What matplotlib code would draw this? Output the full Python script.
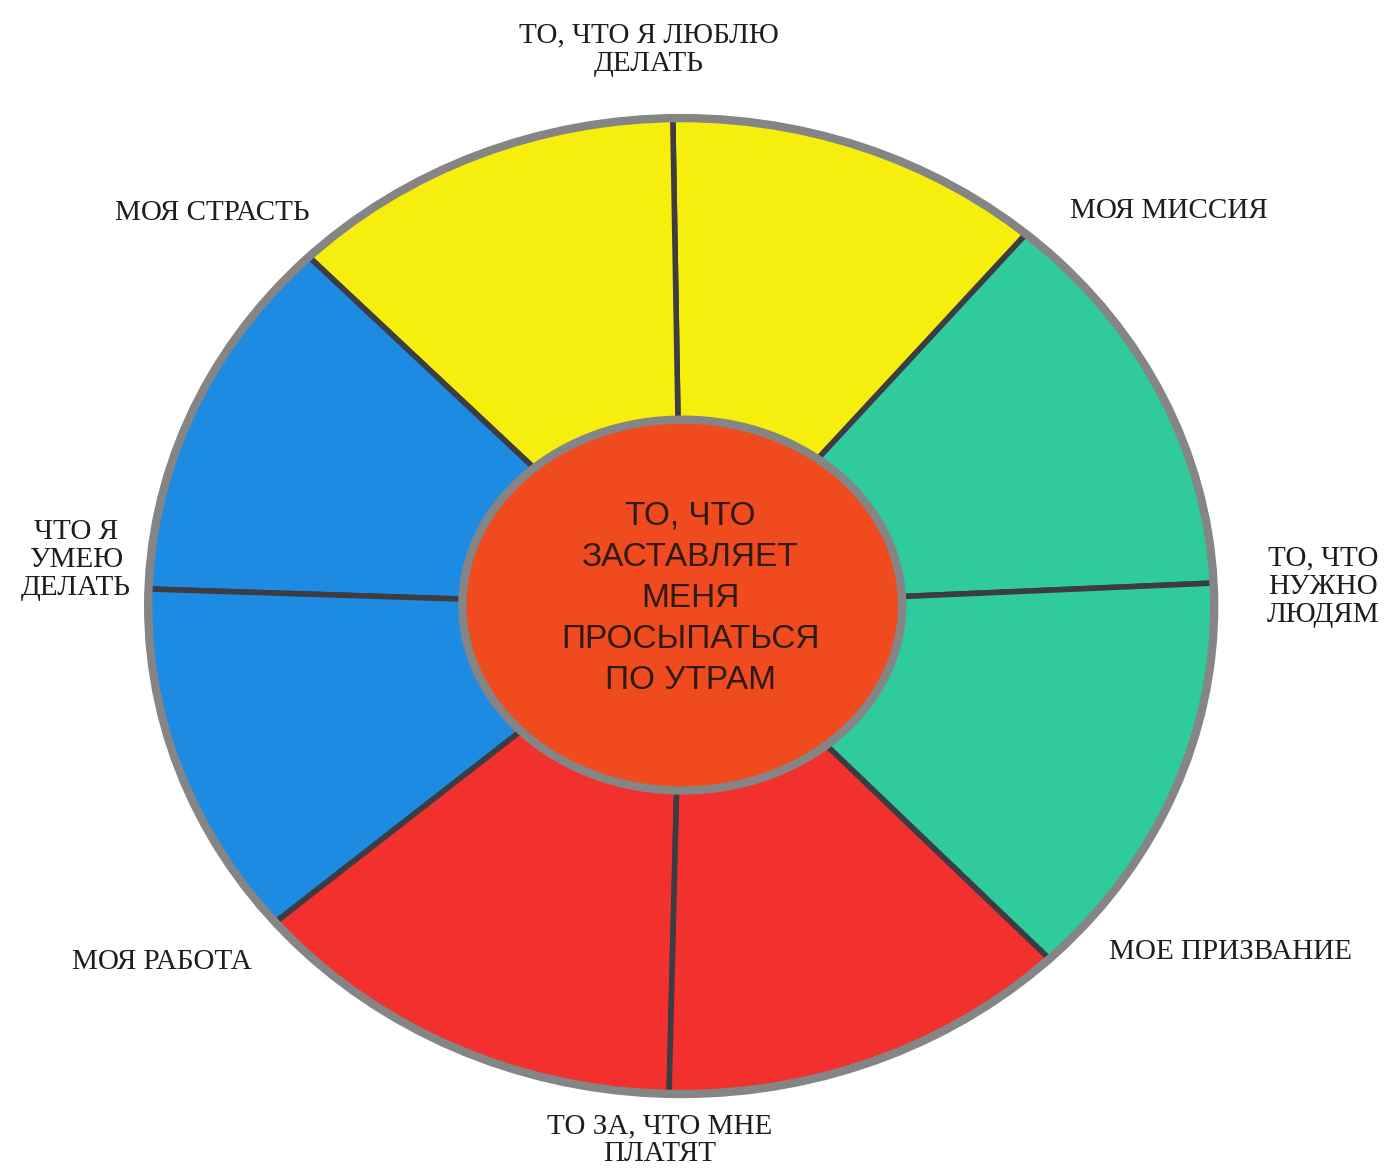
import matplotlib.pyplot as plt
from matplotlib.patches import Ellipse

# sector spans in degrees, read off the hand-drawn wheel,
# counter-clockwise starting just above the 3 o'clock line
sector_start = 2.7
sector_sizes = [47.0, 41.2, 43.4, 43.7, 42.4, 48.3, 45.0, 49.0]
sector_colors = ['#2fcb9c', '#f6ee0c', '#f6ee0c', '#1e8be2',
                 '#1e8be2', '#f2302e', '#f2302e', '#2fcb9c']

outer_labels = ['ТО, ЧТО Я ЛЮБЛЮ\nДЕЛАТЬ', 'МОЯ СТРАСТЬ', 'МОЯ МИССИЯ',
                'ЧТО Я\nУМЕЮ\nДЕЛАТЬ', 'ТО, ЧТО\nНУЖНО\nЛЮДЯМ',
                'МОЯ РАБОТА', 'МОЕ ПРИЗВАНИЕ', 'ТО ЗА, ЧТО МНЕ\nПЛАТЯТ']
label_xy = [(-0.06, 1.14), (-0.88, 0.805), (0.915, 0.81),
            (-1.135, 0.095), (1.205, 0.04),
            (-0.975, -0.73), (1.03, -0.71), (-0.04, -1.095)]

center_text = 'ТО, ЧТО\nЗАСТАВЛЯЕТ\nМЕНЯ\nПРОСЫПАТЬСЯ\nПО УТРАМ'

rim = '#858585'
divider = '#3c3c42'

fig = plt.figure(figsize=(13.97, 11.75), dpi=100)
ax = fig.add_axes([0, 0, 1, 1])

ax.pie(sector_sizes, colors=sector_colors, startangle=sector_start,
       counterclock=True, radius=1.0,
       wedgeprops=dict(width=0.62, edgecolor=divider, linewidth=4))

# grey outer rim drawn over the wedge edges
ax.add_patch(Ellipse((0, 0), 2.0, 2.0, facecolor='none', edgecolor=rim,
                     linewidth=6, zorder=4))

# inner disc
ax.add_patch(Ellipse((0.002, 0.002), 0.825, 0.76, facecolor='#f04a1f',
                     edgecolor=rim, linewidth=6, zorder=5))
ax.text(0.017, 0.016, center_text, ha='center', va='center',
        fontsize=24, family='Liberation Sans', color='#2e1a12',
        linespacing=1.42, zorder=6)

for txt, (x, y) in zip(outer_labels, label_xy):
    ax.text(x, y, txt, ha='center', va='center', fontsize=21,
            family='Liberation Serif', color='#1e1e1e', linespacing=1.1)

# squash to the drawn ellipse and place it like in the picture
ax.set_aspect('auto')
ax.set_xlim(-1.278, 1.343)
ax.set_ylim(-1.166, 1.242)
ax.axis('off')

fig.savefig('out.png', dpi=100, facecolor='white')
